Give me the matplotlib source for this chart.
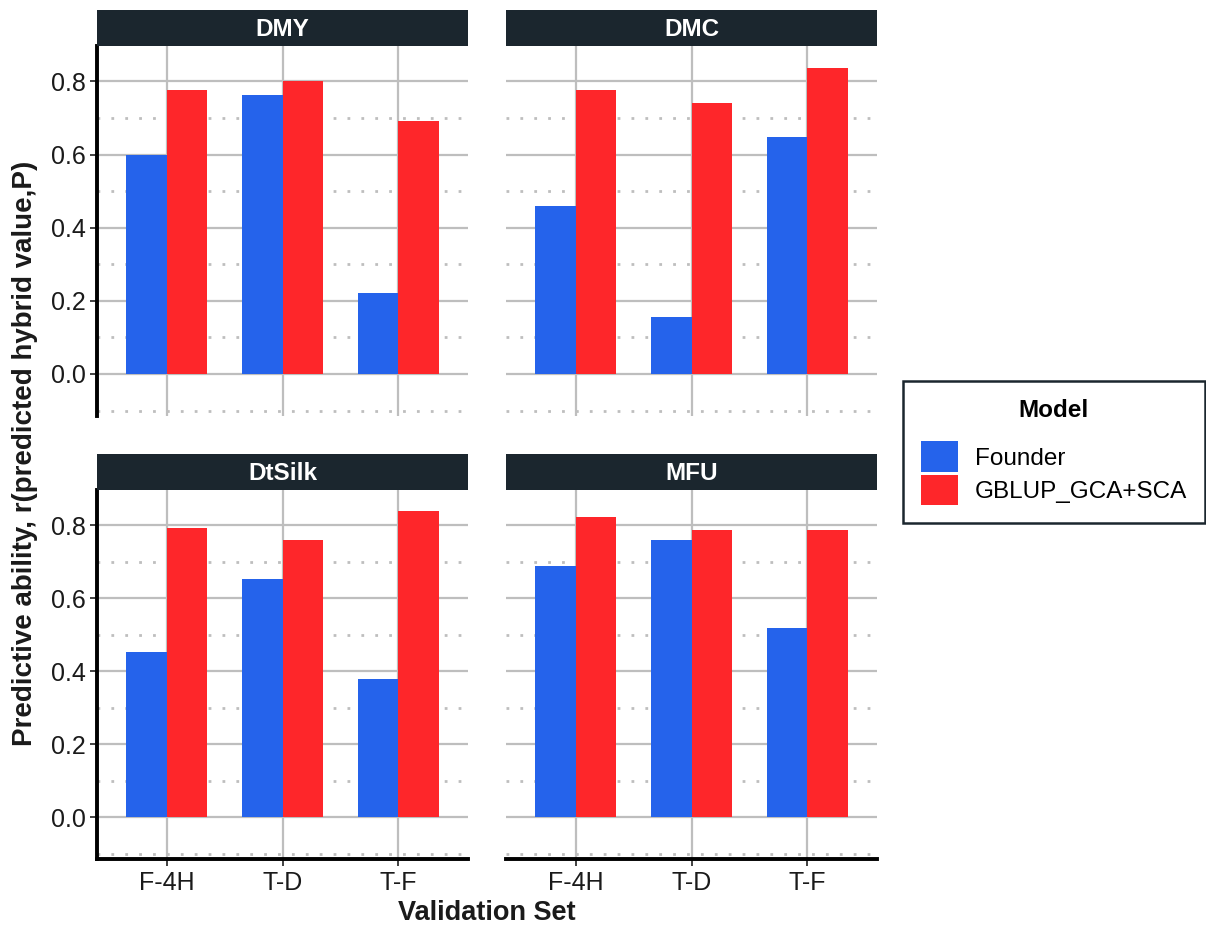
import numpy as np
import matplotlib
matplotlib.use("Agg")
import matplotlib.pyplot as plt
from matplotlib.patches import Patch

plt.rcParams['font.family'] = ['Liberation Sans', 'DejaVu Sans']

# data
traits = ['DMY', 'DMC', 'DtSilk', 'MFU']
val_sets = ['F-4H', 'T-D', 'T-F']
models = ['Founder', 'GBLUP_GCA+SCA']
founder = {
    'DMY': [0.598, 0.762, 0.221],
    'DMC': [0.460, 0.155, 0.649],
    'DtSilk': [0.452, 0.653, 0.379],
    'MFU': [0.688, 0.759, 0.518],
}
gblup = {
    'DMY': [0.776, 0.800, 0.692],
    'DMC': [0.778, 0.742, 0.836],
    'DtSilk': [0.792, 0.760, 0.839],
    'MFU': [0.823, 0.786, 0.786],
}
y_ticks = [0.0, 0.2, 0.4, 0.6, 0.8]
y_minor = [-0.1, 0.1, 0.3, 0.5, 0.7]

col_founder = '#2563EB'
col_gblup = '#FE262A'
strip_col = '#1B262E'
grid_col = '#BEBEBE'

W, H = 1206, 932
fig = plt.figure(figsize=(W / 100, H / 100), dpi=100)

# panel boxes in pixels: left, top, right, bottom
boxes = [(97, 46, 468, 416), (506, 46, 877, 416),
         (97, 490, 468, 859), (506, 490, 877, 859)]
strip_h = 36

x = np.arange(1, len(val_sets) + 1)
bw = 0.35

for i, (trait, (l, t, r, b)) in enumerate(zip(traits, boxes)):
    ax = fig.add_axes([l / W, 1 - b / H, (r - l) / W, (b - t) / H])
    ax.set_axisbelow(True)
    ax.bar(x - bw / 2, founder[trait], width=bw, color=col_founder, zorder=2)
    ax.bar(x + bw / 2, gblup[trait], width=bw, color=col_gblup, zorder=2)
    ax.set_xlim(0.4, 3.6)
    ax.set_ylim(-0.115, 0.897)

    ax.set_xticks(x)
    ax.set_yticks(y_ticks)
    ax.set_yticks(y_minor, minor=True)
    ax.grid(True, which='major', color=grid_col, lw=1.6)
    ax.grid(True, which='minor', axis='y', color=grid_col, lw=2.0,
            linestyle=(0, (1, 4)))
    ax.tick_params(which='minor', length=0)

    for s in ax.spines.values():
        s.set_visible(False)
    left = i % 2 == 0
    bottom = i >= 2
    if left:
        ax.spines['left'].set_visible(True)
        ax.spines['left'].set_linewidth(2.8)
        ax.spines['left'].set_color('black')
        ax.set_yticklabels([f'{v:.1f}' for v in y_ticks])
    else:
        ax.set_yticklabels([])
    if bottom:
        ax.spines['bottom'].set_visible(True)
        ax.spines['bottom'].set_linewidth(2.8)
        ax.spines['bottom'].set_color('black')
        ax.set_xticklabels(val_sets)
    else:
        ax.set_xticklabels([])
    ax.tick_params(axis='y', which='major', length=5 if left else 0,
                   width=1.3, color='#333333', labelsize=18, pad=3,
                   labelcolor='#1a1a1a')
    ax.tick_params(axis='x', which='major', length=5 if bottom else 0,
                   width=1.3, color='#333333', labelsize=18, pad=4,
                   labelcolor='#1a1a1a')

    # facet strip
    sax = fig.add_axes([l / W, 1 - t / H, (r - l) / W, strip_h / H])
    sax.set_facecolor(strip_col)
    sax.set_xticks([])
    sax.set_yticks([])
    for s in sax.spines.values():
        s.set_visible(False)
    sax.text(0.5, 0.47, trait, color='white', fontsize=17.5, fontweight='bold',
             ha='center', va='center', transform=sax.transAxes)

fig.text(25 / W, 1 - 453 / H, 'Predictive ability, r(predicted hybrid value,P)',
         rotation=90, ha='center', va='center', fontsize=20,
         fontweight='bold', color='#1a1a1a')
fig.text(487 / W, 1 - 913 / H, 'Validation Set', ha='center', va='center',
         fontsize=19.5, fontweight='bold', color='#1a1a1a')

handles = [Patch(facecolor=col_founder, label=models[0]),
           Patch(facecolor=col_gblup, label=models[1])]
leg = fig.legend(handles=handles, title='Model', loc='center',
                 bbox_to_anchor=(1054 / W, 1 - 452 / H), fontsize=17.5,
                 title_fontproperties={'weight': 'bold', 'size': 17.5},
                 frameon=True, fancybox=False, edgecolor='#1B262E',
                 framealpha=1.0,
                 handlelength=1.5, handleheight=1.55, labelspacing=0.12,
                 handletextpad=0.7, borderpad=0.75)
leg.get_frame().set_linewidth(1.8)
leg._legend_box.sep = 14

fig.savefig('out.png', dpi=100, facecolor='white')
